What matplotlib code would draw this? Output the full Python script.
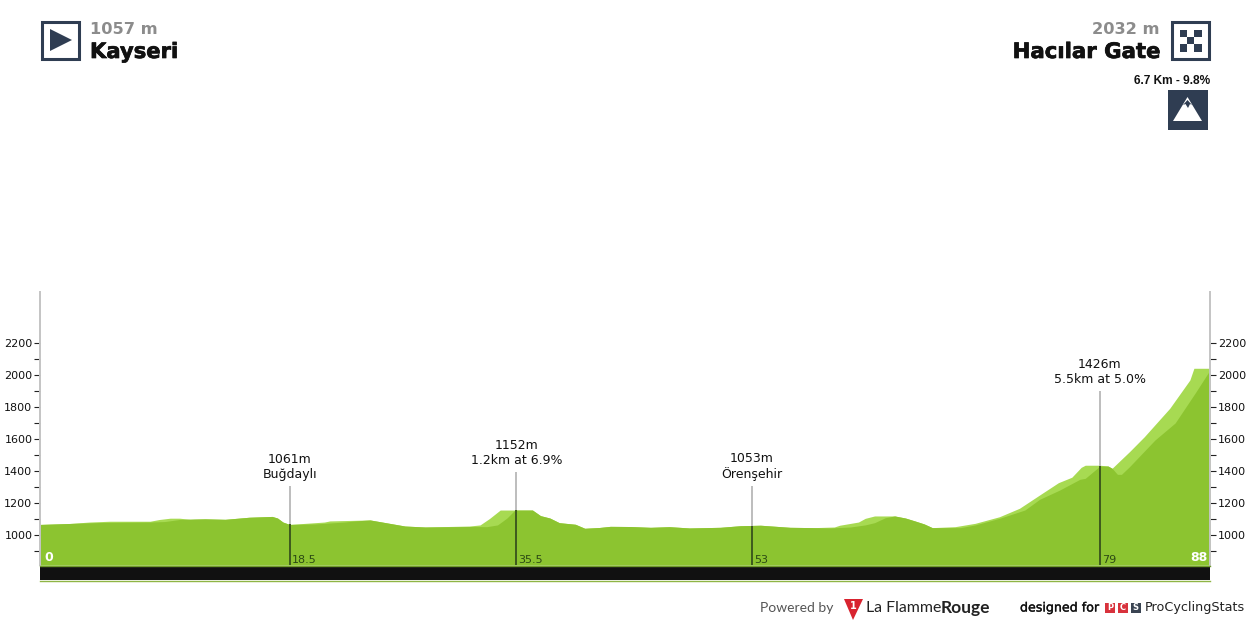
import matplotlib
matplotlib.use("Agg")
import matplotlib.pyplot as plt
import matplotlib.patheffects as pe
from matplotlib.patches import Rectangle, Polygon

# profile, km and metres
back_km = [0, 2.2, 3.7, 5.2, 8.2, 8.9, 9.7, 10.4, 11.2, 12.3, 13.8, 15.6, 17.3, 17.7, 18.1, 18.6,
           21.2, 21.6, 24.6, 25.7, 27.2, 28.7, 32.0, 32.8, 33.5, 34.3, 36.7, 37.3, 38.0, 38.7, 39.9, 40.6,
           41.7, 42.5, 44.0, 45.5, 46.9, 48.4, 50.7, 52.2, 53.7, 55.9, 57.7, 59.2, 59.6, 61.0, 61.5, 62.2,
           63.7, 64.5, 65.2, 65.9, 66.5, 68.2, 69.7, 71.5, 73.0, 74.5, 75.9, 76.9, 77.6, 77.9, 79.0, 79.6,
           79.9, 81.2, 82.3, 84.2, 85.7, 86.0, 87.2]
back_m = [1066, 1072, 1081, 1086, 1086, 1097, 1105, 1105, 1098, 1101, 1098, 1111, 1116, 1106, 1081, 1066,
          1081, 1088, 1094, 1078, 1056, 1050, 1056, 1063, 1103, 1156, 1156, 1121, 1106, 1077, 1067, 1042,
          1047, 1054, 1053, 1048, 1052, 1044, 1048, 1058, 1061, 1048, 1046, 1050, 1061, 1081, 1104, 1119,
          1119, 1106, 1088, 1069, 1046, 1052, 1073, 1114, 1167, 1250, 1327, 1361, 1423, 1436, 1436, 1431,
          1417, 1521, 1614, 1792, 1969, 2042, 2042]

front_km = [0, 2.2, 4.5, 8.2, 9.3, 10.4, 11.5, 12.3, 13.8, 15.6, 17.3, 17.7, 18.1, 18.6,
            20.5, 21.6, 22.7, 23.5, 24.6, 25.7, 27.2, 28.7, 32.0, 33.3, 34.1, 34.8, 35.4, 36.7, 37.3, 38.0, 38.7, 39.9, 40.6,
            41.7, 42.5, 44.0, 45.5, 46.9, 48.4, 50.7, 52.2, 53.7, 55.9, 57.7, 58.9, 60.4, 61.5, 62.2, 63.0,
            63.7, 64.5, 65.2, 65.9, 66.5, 68.6, 69.7, 71.5, 73.4, 74.5, 76.0, 77.5, 77.9, 78.8, 79.0, 79.6,
            79.9, 80.3, 80.6, 81.2, 83.1, 84.6, 86.1, 87.2]
front_m = [1066, 1072, 1078, 1081, 1084, 1097, 1100, 1101, 1098, 1111, 1116, 1106, 1081, 1066,
           1069, 1075, 1081, 1088, 1094, 1078, 1056, 1050, 1053, 1052, 1063, 1106, 1156, 1156, 1121, 1106, 1077, 1067, 1042,
           1047, 1054, 1053, 1048, 1052, 1044, 1048, 1058, 1061, 1048, 1046, 1044, 1050, 1063, 1077, 1108,
           1119, 1106, 1088, 1069, 1046, 1046, 1063, 1104, 1156, 1223, 1281, 1348, 1354, 1417, 1431, 1431,
           1417, 1379, 1379, 1427, 1594, 1700, 1888, 2031]

mark_km = [18.6, 35.5, 53.05, 79]
mark_base = [1066, 1156, 1058, 1431]
mark_top = [1306, 1394, 1306, 1900]
mark_km_labels = ["18.5", "35.5", "53", "79"]
mark_line1 = ["1061m", "1152m", "1053m", "1426m"]
mark_line2 = ["Buğdaylı", "1.2km at 6.9%", "Örenşehir", "5.5km at 5.0%"]

major_ticks = [1000, 1200, 1400, 1600, 1800, 2000, 2200]
minor_ticks = [900, 1100, 1300, 1500, 1700, 1900, 2100]
grey_ticks = [900, 1100, 2200]

green = "#8cc430"
light = "#a7da52"
navy = "#2f3d52"

plt.rcParams["font.family"] = ["DejaVu Sans"]
W, H = 1250, 625
fig = plt.figure(figsize=(12.5, 6.25), dpi=100)

ax = fig.add_axes([40 / W, (H - 565) / H, 1170 / W, 273 / H])
ax.set_xlim(0, 87.2)
ax.set_ylim(812.5, 2518.75)
ax.fill_between(back_km, 812.5, back_m, color=light, lw=0)
ax.fill_between(front_km, 812.5, front_m, color=green, lw=0)

for km, base, top, lab, l1, l2 in zip(mark_km, mark_base, mark_top, mark_km_labels, mark_line1, mark_line2):
    ax.plot([km, km], [base, top], color="#bdbdbd", lw=1.4, solid_capstyle="butt")
    ax.plot([km, km], [812.5, base], color="#3d5a1e", lw=1.4, solid_capstyle="butt")
    ax.annotate(l1 + "\n" + l2, (km, top), xytext=(0, 3.7), textcoords="offset points", ha="center", va="bottom",
                fontsize=9, color="#111111", linespacing=1.15)
    ax.annotate(lab, (km, 812.5), xytext=(1.5, 0), textcoords="offset points", ha="left", va="bottom",
                fontsize=8, color="#2c4a14")

ax.annotate("0", (0, 812.5), xytext=(3, 0.5), textcoords="offset points", ha="left", va="bottom",
            fontsize=9, fontweight="bold", color="white")
ax.annotate("88", (87.2, 812.5), xytext=(-2, 0.5), textcoords="offset points", ha="right", va="bottom",
            fontsize=9, fontweight="bold", color="white")

for s in ["top", "bottom"]:
    ax.spines[s].set_visible(False)
for s in ["left", "right"]:
    ax.spines[s].set_color("#c4c4c4")
    ax.spines[s].set_linewidth(1.4)
ax.set_xticks([])
ax.set_yticks(major_ticks)
ax.set_yticks(minor_ticks, minor=True)
ax.tick_params(axis="y", which="both", left=True, right=True, labelleft=True, labelright=True, length=4,
               width=0.8, color="#222222", labelsize=8, labelcolor="#111111", pad=1.5)
for tick in ax.yaxis.get_major_ticks() + ax.yaxis.get_minor_ticks():
    if tick.get_loc() in grey_ticks:
        tick.tick1line.set_color("#999999")
        tick.tick2line.set_color("#999999")

# header, footer and strip in pixel coordinates
ov = fig.add_axes([0, 0, 1, 1], zorder=5)
ov.set_xlim(0, W)
ov.set_ylim(H, 0)
ov.axis("off")

ov.add_patch(Rectangle((40, 566), 1170, 14, color="#111111", lw=0))
ov.plot([40, 1210], [565.5, 565.5], color="#6f9a2b", lw=1)
ov.plot([40, 1210], [580.5, 580.5], color="#8fb545", lw=1)

heavy = [pe.withStroke(linewidth=0.5, foreground="#111111")]

ov.add_patch(Rectangle((41.5, 21.5), 37, 37, fc="white", ec=navy, lw=2.2))
ov.add_patch(Polygon([(50, 29), (72, 40), (50, 51)], color=navy, lw=0))
ov.text(90, 29, "1057 m", fontsize=11.7, fontweight="bold", color="#8c8c8c", ha="left", va="center")
ov.text(90, 52, "Kayseri", fontsize=15.2, fontweight="bold", color="#111111", ha="left", va="center", path_effects=heavy)

ov.add_patch(Rectangle((1171.5, 21.5), 37, 37, fc="white", ec=navy, lw=2.2))
for r in range(3):
    for c in range(3):
        if (r + c) % 2 == 0:
            ov.add_patch(Rectangle((1179.5 + c * 7.4, 29.5 + r * 7.4), 7.4, 7.4, color=navy, lw=0))
ov.text(1160, 29, "2032 m", fontsize=11.7, fontweight="bold", color="#8c8c8c", ha="right", va="center")
ov.text(1160, 52, "Hacılar Gate", fontsize=15.3, fontweight="bold", color="#111111", ha="right", va="center", path_effects=heavy)

ov.text(1210, 81, "6.7 Km - 9.8%", fontsize=8.6, fontweight="bold", color="#111111", ha="right", va="center",
        family="Liberation Sans")
ov.add_patch(Rectangle((1168, 90), 40, 40, color=navy, lw=0))
ov.add_patch(Polygon([(1187.5, 97), (1202, 121), (1173, 121)], color="white", lw=0))
ov.add_patch(Polygon([(1183, 105), (1187.5, 100), (1192, 105), (1190, 104), (1188, 108), (1185.5, 104)], color=navy, lw=0))

ov.text(760, 608, "Powered by", fontsize=10, color="#555555", ha="left", va="center", family="Lato")
ov.add_patch(Polygon([(844, 599), (863, 599), (853, 620)], color="#d8232f", lw=0))
ov.text(853.5, 606, "1", fontsize=7, fontweight="bold", color="white", ha="center", va="center")
ov.text(866, 608, "La Flamme", fontsize=11.4, color="#222222", ha="left", va="center", family="Lato")
ov.text(990, 608, "Rouge", fontsize=12.5, fontweight="bold", color="#222222", ha="right", va="center", family="Lato")

ov.text(1020, 608, "designed for", fontsize=9.1, color="#111111", ha="left", va="center", family="DejaVu Sans",
        path_effects=[pe.withStroke(linewidth=0.25, foreground="#111111")])
for x0, col, ch in zip([1105, 1118, 1130.5], ["#d8323c", "#d8323c", "#3a4452"], ["P", "C", "S"]):
    ov.add_patch(Rectangle((x0, 603), 10, 10, color=col, lw=0))
    ov.text(x0 + 5, 608, ch, fontsize=6, fontweight="bold", color="white", ha="center", va="center")
ov.text(1145, 608, "ProCyclingStats", fontsize=9.2, color="#222222", ha="left", va="center", family="DejaVu Sans")

fig.savefig("out.png", dpi=100)
